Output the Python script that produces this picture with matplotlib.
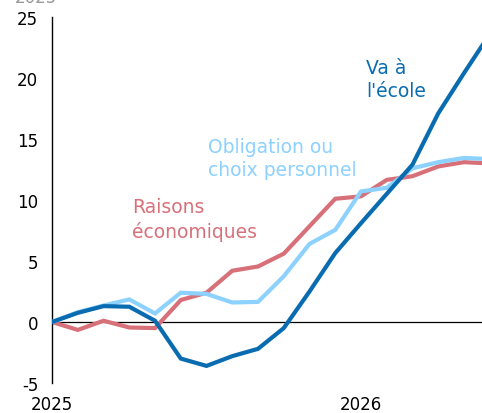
import numpy as np
import matplotlib
matplotlib.use("Agg")
import matplotlib.pyplot as plt

# monthly index, Jan 2025 = 0
months = np.arange(18)
ecole = [0, 0.75, 1.3, 1.25, 0.1, -3.0, -3.6, -2.8, -2.2, -0.5, 2.5, 5.65, 8.1, 10.5, 12.9, 17.1, 20.4, 23.6]
obligation = [0, 0.8, 1.35, 1.85, 0.7, 2.4, 2.3, 1.6, 1.65, 3.75, 6.4, 7.55, 10.7, 11.0, 12.6, 13.1, 13.45, 13.35]
economiques = [0, -0.65, 0.1, -0.45, -0.5, 1.8, 2.4, 4.2, 4.55, 5.6, 7.85, 10.1, 10.3, 11.65, 11.95, 12.75, 13.1, 13.0]
yticks = [-5, 0, 5, 10, 15, 20, 25]
xtick_pos = [0, 12]
xtick_labels = ["2025", "2026"]

c_dark = "#0a6cb0"
c_light = "#8dd1ff"
c_red = "#d8707a"
font = "DejaVu Sans"

fig = plt.figure(figsize=(4.82, 4.14), dpi=100)
ax = fig.add_axes([0.108, 0.0725, 0.892, 0.884])

ax.axhline(0, color="black", lw=0.9, zorder=1)
ax.plot(months, economiques, color=c_red, lw=3.0, zorder=2, solid_joinstyle="miter")
ax.plot(months, obligation, color=c_light, lw=3.0, zorder=3, solid_joinstyle="miter")
ax.plot(months, ecole, color=c_dark, lw=3.0, zorder=4, solid_joinstyle="miter")

ax.set_xlim(0, 16.7)
ax.set_ylim(-5, 25)
for s in ["top", "right", "bottom"]:
    ax.spines[s].set_visible(False)
ax.spines["left"].set_linewidth(1.0)
ax.set_yticks(yticks)
ax.set_yticklabels([str(t) for t in yticks], fontsize=12, family=font)
ax.set_xticks(xtick_pos)
ax.set_xticklabels(xtick_labels, fontsize=12, family=font)
ax.tick_params(axis="y", length=0, pad=10)
ax.tick_params(axis="x", length=0, pad=9)

# series labels
ax.text(12.2, 19.9, "Va à\nl'école", color=c_dark, fontsize=13.5, family=font,
        ha="left", va="center", linespacing=1.3)
ax.text(6.05, 13.45, "Obligation ou\nchoix personnel", color=c_light, fontsize=13.5,
        family=font, ha="left", va="center", linespacing=1.3)
ax.text(3.1, 8.45, "Raisons\néconomiques", color=c_red, fontsize=13.5, family=font,
        ha="left", va="center", linespacing=1.3)

# cropped header at the very top
fig.text(0.03, 0.992, "2025", color="#999999", fontsize=12, family=font,
         ha="left", va="baseline")

fig.savefig("out.png", dpi=100)
